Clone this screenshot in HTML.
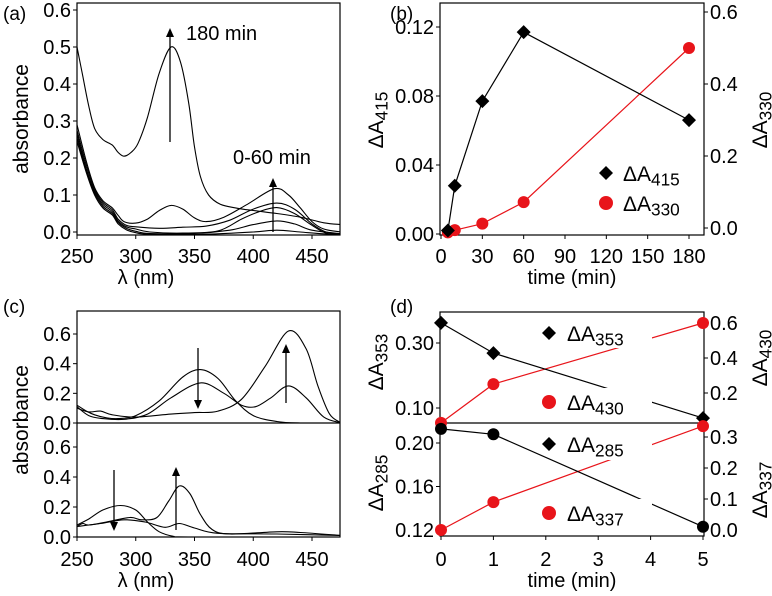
<!DOCTYPE html>
<html><head><meta charset="utf-8"><style>
html,body{margin:0;padding:0;background:#fff;}
svg{display:block;font-family:"Liberation Sans",sans-serif;}
</style></head><body>
<svg id="fig" width="772" height="596" viewBox="0 0 772 596" xmlns="http://www.w3.org/2000/svg"></svg>
<script>
// ---------- data ----------
const aTicksY=[0,0.1,0.2,0.3,0.4,0.5,0.6];
const lamTicks=[250,300,350,400,450];
const a180=[[250,0.50],[255,0.42],[260,0.34],[265,0.28],[272,0.25],[280,0.235],[285,0.215],[290,0.205],[296,0.215],[302,0.24],[310,0.31],[320,0.43],[330,0.50],[338,0.46],[345,0.35],[350,0.23],[355,0.15],[362,0.10],[372,0.075],[385,0.065],[400,0.058],[420,0.050],[440,0.040],[460,0.025],[475,0.020]];
const a60=[[250,0.29],[258,0.19],[265,0.12],[272,0.085],[280,0.065],[285,0.045],[290,0.028],[300,0.024],[310,0.035],[320,0.058],[330,0.072],[340,0.062],[350,0.038],[360,0.028],[375,0.04],[395,0.075],[418,0.117],[430,0.10],[440,0.065],[450,0.028],[460,0.008],[475,0.0]];
const a30=[[250,0.275],[258,0.18],[265,0.115],[272,0.08],[280,0.06],[285,0.035],[292,0.018],[300,0.014],[320,0.01],[340,0.013],[360,0.016],[380,0.032],[400,0.062],[420,0.078],[435,0.062],[450,0.022],[462,0.0],[475,-0.005]];
const a10=[[250,0.265],[258,0.17],[265,0.11],[272,0.075],[280,0.055],[285,0.03],[292,0.014],[300,0.008],[312,0.0],[340,-0.003],[370,0.003],[390,0.035],[405,0.055],[420,0.066],[435,0.05],[450,0.018],[462,-0.003],[475,-0.005]];
const a5=[[250,0.255],[258,0.165],[265,0.105],[272,0.07],[280,0.05],[285,0.026],[292,0.01],[300,0.002],[312,-0.004],[350,-0.004],[380,0.005],[400,0.02],[420,0.03],[435,0.022],[450,0.005],[475,-0.005]];
const a0=[[250,0.245],[258,0.16],[265,0.1],[272,0.065],[280,0.046],[285,0.022],[292,0.006],[300,-0.002],[312,-0.006],[360,-0.006],[400,0.0],[420,0.005],[440,0.0],[460,-0.005],[475,-0.005]];
const bTime=[5,10,30,60,180];
const b415=[0.002,0.028,0.077,0.117,0.066];
const b330=[-0.012,-0.006,0.012,0.072,0.5];
const bTicksX=[0,30,60,90,120,150,180];
const bTicksL=[0,0.04,0.08,0.12];
const bTicksR=[0,0.2,0.4,0.6];
const cTicksY=[0,0.2,0.4,0.6];
const cUp1=[[250,0.12],[258,0.08],[265,0.055],[275,0.035],[285,0.03],[300,0.05],[320,0.15],[340,0.31],[355,0.36],[370,0.3],[385,0.15],[400,0.05],[420,0.01],[440,0.0],[475,0.0]];
const cUp2=[[250,0.11],[260,0.05],[272,0.03],[290,0.025],[310,0.06],[330,0.17],[355,0.27],[375,0.2],[390,0.12],[402,0.11],[415,0.17],[430,0.25],[445,0.17],[460,0.04],[475,0.0]];
const cUp3=[[250,0.1],[260,0.075],[270,0.08],[280,0.055],[300,0.04],[330,0.06],[350,0.07],[370,0.08],[390,0.16],[410,0.38],[430,0.62],[445,0.5],[455,0.25],[465,0.06],[475,0.0]];
const cLo1=[[250,0.08],[260,0.12],[272,0.18],[287,0.21],[300,0.18],[310,0.1],[320,0.035],[332,0.005],[345,0.0],[475,0.0]];
const cLo2=[[250,0.07],[255,0.09],[260,0.08],[275,0.1],[295,0.13],[305,0.115],[318,0.13],[328,0.24],[337,0.34],[346,0.29],[355,0.15],[365,0.05],[380,0.02],[420,0.035],[440,0.03],[475,0.01]];
const cLo3=[[250,0.07],[270,0.09],[290,0.115],[308,0.1],[325,0.065],[337,0.09],[350,0.06],[370,0.025],[420,0.02],[475,0.01]];
const dTime=[0,1,5];
const d353=[0.362,0.269,0.069];
const d430=[0.029,0.251,0.6];
const d285=[0.213,0.208,0.123];
const d337=[0.0,0.09,0.335];
const dTicksX=[0,1,2,3,4,5];
const dUpL=[0.10,0.30];
const dUpR=[0.2,0.4,0.6];
const dLoL=[0.12,0.16,0.20];
const dLoR=[0.0,0.1,0.2,0.3];

// ---------- helpers ----------
const NS="http://www.w3.org/2000/svg";
const svg=document.getElementById('fig');
function el(tag,attrs,parent){const e=document.createElementNS(NS,tag);for(const k in attrs)e.setAttribute(k,attrs[k]);(parent||svg).appendChild(e);return e;}
function lin(d0,d1,r0,r1){return v=>r0+(v-d0)*(r1-r0)/(d1-d0);}
function smooth(pts){let d="M"+pts[0][0].toFixed(1)+","+pts[0][1].toFixed(1);
 for(let i=0;i<pts.length-1;i++){const p0=pts[Math.max(0,i-1)],p1=pts[i],p2=pts[i+1],p3=pts[Math.min(pts.length-1,i+2)];
 const c1=[p1[0]+(p2[0]-p0[0])/6,p1[1]+(p2[1]-p0[1])/6],c2=[p2[0]-(p3[0]-p1[0])/6,p2[1]-(p3[1]-p1[1])/6];
 d+=" C"+c1[0].toFixed(1)+","+c1[1].toFixed(1)+" "+c2[0].toFixed(1)+","+c2[1].toFixed(1)+" "+p2[0].toFixed(1)+","+p2[1].toFixed(1);}return d;}
function txt(x,y,s,size,anchor,rot){const t=el('text',{x:x,y:y,'font-size':size,'text-anchor':anchor||'middle',fill:'#000'});if(rot)t.setAttribute('transform','rotate(-90 '+x+' '+y+')');t.textContent=s;return t;}
function dA(x,y,sub,size,anchor,rot){const t=el('text',{x:x,y:y,'font-size':size,'text-anchor':anchor||'middle',fill:'#000'});if(rot)t.setAttribute('transform','rotate(-90 '+x+' '+y+')');
 const a=el('tspan',{},t);a.textContent="ΔA";const b=el('tspan',{dy:size*0.22,'font-size':size*0.82},t);b.textContent=sub;return t;}
function arrow(x,y1,y2,name){const g=el('g',{});
 const dir=y2<y1?1:-1;el('line',{x1:x,y1:y1,x2:x,y2:y2+dir*6,stroke:'#000','stroke-width':1.3},g);
 el('polygon',{points:x+","+y2+" "+(x-4)+","+(y2+dir*9)+" "+(x+4)+","+(y2+dir*9),fill:'#000'},g);}
function box(x0,y0,x1,y1,name){const r=el('rect',{x:x0,y:y0,width:x1-x0,height:y1-y0,fill:'none',stroke:'#000','stroke-width':1.2});}
function diamond(x,y,s,g){el('polygon',{points:x+","+(y-s)+" "+(x+s)+","+y+" "+x+","+(y+s)+" "+(x-s)+","+y,fill:'#000'},g);}
function series(xs,ys,sx,sy,color,marker,name){const g=el('g',{});
 el('polyline',{points:xs.map((v,i)=>sx(v).toFixed(1)+","+sy(ys[i]).toFixed(1)).join(" "),fill:'none',stroke:color,'stroke-width':1.2},g);
 xs.forEach((v,i)=>{if(marker==='d')diamond(sx(v),sy(ys[i]),7,g);else el('circle',{cx:sx(v),cy:sy(ys[i]),r:6,fill:marker==='o'?'#000':color},g);});}
function spectrum(pts,sx,sy,name,clipId){const p=el('path',{d:smooth(pts.map(q=>[sx(q[0]),sy(q[1])])),fill:'none',stroke:'#000','stroke-width':1.1});if(clipId)p.setAttribute('clip-path','url(#'+clipId+')');}
const FS=20;
const defs=el('defs',{});
function clip(id,x0,y0,x1,y1){const c=el('clipPath',{id:id},defs);el('rect',{x:x0,y:y0,width:x1-x0,height:y1-y0},c);}

// ---------- panel (a) ----------
const ax=lin(250,450,77,312), ay=lin(0,0.6,232,10);
clip('ca',77,3,340,235);
box(77,3,340,235,'panel-a-frame');
aTicksY.forEach(v=>{el('line',{x1:73,x2:77,y1:ay(v),y2:ay(v),stroke:'#000'});txt(71,ay(v)+7,v.toFixed(1),FS,'end');});
lamTicks.forEach(v=>{el('line',{x1:ax(v),x2:ax(v),y1:235,y2:239,stroke:'#000'});txt(ax(v),263,String(v),FS);});
txt(146,284,"λ (nm)",FS);
txt(28,119,"absorbance",21,'middle',true);
txt(3,20,"(a)",19,'start');
[[a180,'spectrum-180min'],[a60,'spectrum-60min'],[a30,'spectrum-30min'],[a10,'spectrum-10min'],[a5,'spectrum-5min'],[a0,'spectrum-0min']].forEach(s=>spectrum(s[0],ax,ay,s[1],'ca'));
arrow(170,142,28,'arrow-330');arrow(273,232,178,'arrow-415');
txt(186,40,"180 min",FS,'start');txt(233,164,"0-60 min",FS,'start');

// ---------- panel (b) ----------
const bx=lin(0,180,441,689), byL=lin(0,0.12,234,27), byR=lin(0,0.6,228,12);
box(440,3,704,235,'panel-b-frame');
bTicksL.forEach(v=>{el('line',{x1:436,x2:440,y1:byL(v),y2:byL(v),stroke:'#000'});txt(434,byL(v)+7,v.toFixed(2),FS,'end');});
bTicksR.forEach(v=>{el('line',{x1:704,x2:708,y1:byR(v),y2:byR(v),stroke:'#000'});txt(710,byR(v)+7,v.toFixed(1),FS,'start');});
bTicksX.forEach(v=>{el('line',{x1:bx(v),x2:bx(v),y1:235,y2:239,stroke:'#000'});txt(bx(v),263,String(v),FS);});
txt(572,284,"time (min)",FS);
dA(383,120,"415",21,'middle',true);
dA(767,120,"330",21,'middle',true);
txt(390,20,"(b)",19,'start');
series(bTime,b330,bx,byR,'#e8141a','c','series-dA330');
series(bTime,b415,bx,byL,'#000','d','series-dA415');
diamond(606,173,7);dA(623,181,"415",21,'start');
el('circle',{cx:606,cy:203,r:7,fill:'#e8141a'});dA(623,211,"330",21,'start');

// ---------- panel (c) ----------
const cx=lin(250,450,77,312), cyU=lin(0,0.6,423,334), cyL=lin(0,0.6,537,447);
clip('cu',77,311,340,423);clip('cl',77,423,340,537);
box(77,311,340,537,'panel-c-frame');
el('line',{x1:77,x2:340,y1:423,y2:423,stroke:'#000','stroke-width':1.2});
cTicksY.forEach(v=>{el('line',{x1:73,x2:77,y1:cyU(v),y2:cyU(v),stroke:'#000'});txt(71,cyU(v)+7,v.toFixed(1),FS,'end');
 el('line',{x1:73,x2:77,y1:cyL(v),y2:cyL(v),stroke:'#000'});txt(71,cyL(v)+7,v.toFixed(1),FS,'end');});
lamTicks.forEach(v=>{el('line',{x1:cx(v),x2:cx(v),y1:537,y2:541,stroke:'#000'});txt(cx(v),566,String(v),FS);});
txt(146,587,"λ (nm)",FS);
txt(28,420,"absorbance",21,'middle',true);
txt(3,313,"(c)",19,'start');
[[cUp1,'upper-spectrum-1'],[cUp2,'upper-spectrum-2'],[cUp3,'upper-spectrum-3']].forEach(s=>spectrum(s[0],cx,cyU,s[1],'cu'));
[[cLo1,'lower-spectrum-1'],[cLo2,'lower-spectrum-2'],[cLo3,'lower-spectrum-3']].forEach(s=>spectrum(s[0],cx,cyL,s[1],'cl'));
arrow(198,348,409,'arrow-353-down');arrow(286,403,344,'arrow-430-up');
arrow(114,470,531,'arrow-285-down');arrow(176,530,467,'arrow-337-up');

// ---------- panel (d) ----------
const dx=lin(0,5,441,703);
const dyUL=lin(0.1,0.3,408,343), dyUR=lin(0.2,0.6,393,323), dyLL=lin(0.12,0.2,530,443), dyLR=lin(0,0.3,530,437);
box(440,312,704,536,'panel-d-frame');
el('line',{x1:440,x2:704,y1:423,y2:423,stroke:'#000','stroke-width':1.2});
dUpL.forEach(v=>{el('line',{x1:436,x2:440,y1:dyUL(v),y2:dyUL(v),stroke:'#000'});txt(434,dyUL(v)+7,v.toFixed(2),FS,'end');});
dUpR.forEach(v=>{el('line',{x1:704,x2:708,y1:dyUR(v),y2:dyUR(v),stroke:'#000'});txt(710,dyUR(v)+7,v.toFixed(1),FS,'start');});
dLoL.forEach(v=>{el('line',{x1:436,x2:440,y1:dyLL(v),y2:dyLL(v),stroke:'#000'});txt(434,dyLL(v)+7,v.toFixed(2),FS,'end');});
dLoR.forEach(v=>{el('line',{x1:704,x2:708,y1:dyLR(v),y2:dyLR(v),stroke:'#000'});txt(710,dyLR(v)+7,v.toFixed(1),FS,'start');});
dTicksX.forEach(v=>{el('line',{x1:dx(v),x2:dx(v),y1:536,y2:540,stroke:'#000'});txt(dx(v),566,String(v),FS);});
txt(572,587,"time (min)",FS);
dA(383,362,"353",21,'middle',true);
dA(767,358,"430",21,'middle',true);
dA(383,483,"285",21,'middle',true);
dA(767,490,"337",21,'middle',true);
txt(390,313,"(d)",19,'start');
series(dTime,d430,dx,dyUR,'#e8141a','c','series-dA430');
series(dTime,d353,dx,dyUL,'#000','d','series-dA353');
series(dTime,d337,dx,dyLR,'#e8141a','c','series-dA337');
series(dTime,d285,dx,dyLL,'#000','o','series-dA285');
function legendBg(x,y,w,h){el('rect',{x:x,y:y,width:w,height:h,fill:'#fff'});}
legendBg(560,318,92,30);legendBg(560,388,92,30);legendBg(560,430,92,30);legendBg(560,499,92,30);
diamond(549,333,7);dA(567,341,"353",21,'start');
el('circle',{cx:549,cy:402,r:7,fill:'#e8141a'});dA(567,410,"430",21,'start');
diamond(549,444,7);dA(567,452,"285",21,'start');
el('circle',{cx:549,cy:513,r:7,fill:'#e8141a'});dA(567,521,"337",21,'start');
</script>
</body></html>
